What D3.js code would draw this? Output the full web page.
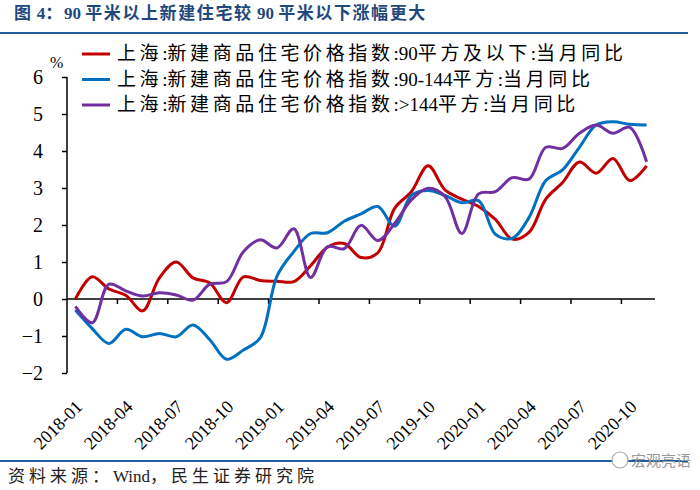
<!DOCTYPE html>
<html>
<head>
<meta charset="utf-8">
<script src="https://cdn.jsdelivr.net/npm/d3@7"></script>
<style>
    body { margin: 0; background: #fff; }
    #chart-area { width: 700px; height: 490px; }
</style>
</head>
<body>
<div id="chart-area"></div>
<script>
// months 2018-01 .. 2020-11
var months = ["2018-01","2018-02","2018-03","2018-04","2018-05","2018-06","2018-07","2018-08","2018-09","2018-10","2018-11","2018-12",
    "2019-01","2019-02","2019-03","2019-04","2019-05","2019-06","2019-07","2019-08","2019-09","2019-10","2019-11","2019-12",
    "2020-01","2020-02","2020-03","2020-04","2020-05","2020-06","2020-07","2020-08","2020-09","2020-10","2020-11"];

var below90 = [0, 0.6, 0.27, 0.1, -0.32, 0.57, 1.0, 0.57, 0.43, -0.1, 0.6, 0.5,
    0.48, 0.47, 0.9, 1.4, 1.5, 1.12, 1.25, 2.45, 2.9, 3.6, 2.95, 2.7,
    2.5, 2.15, 1.62, 1.8, 2.7, 3.15, 3.7, 3.4, 3.8, 3.2, 3.6];
var mid90to144 = [-0.3, -0.8, -1.2, -0.82, -1.02, -0.93, -1.02, -0.7, -1.1, -1.63, -1.38, -1.05,
    0.62, 1.28, 1.77, 1.79, 2.1, 2.3, 2.5, 1.97, 2.8, 2.93, 2.8, 2.6,
    2.66, 1.75, 1.64, 2.2, 3.2, 3.49, 4.1, 4.7, 4.79, 4.72, 4.7];
var above144 = [-0.2, -0.64, 0.4, 0.22, 0.08, 0.17, 0.11, -0.03, 0.4, 0.47, 1.28, 1.6,
    1.38, 1.9, 0.58, 1.41, 1.36, 1.99, 1.58, 2.04, 2.68, 2.99, 2.77, 1.77,
    2.84, 2.9, 3.28, 3.24, 4.1, 4.07, 4.48, 4.7, 4.48, 4.64, 3.71];

var seriesNames = ["上海:新建商品住宅价格指数:90平方及以下:当月同比",
    "上海:新建商品住宅价格指数:90-144平方:当月同比",
    "上海:新建商品住宅价格指数:>144平方:当月同比"];
var seriesColors = ["#C00000", "#0070C0", "#7030A0"];
var yTicks = [-2, -1, 0, 1, 2, 3, 4, 5, 6];

var titleText = "图 4：90 平米以上新建住宅较 90 平米以下涨幅更大";
var sourceText = "资料来源：Wind，民生证券研究院";

var W = 700, H = 490;
var cjk = "'Liberation Serif', 'Noto Sans CJK SC', serif";

var svg = d3.select("#chart-area")
    .append("svg")
        .attr("width", W)
        .attr("height", H);

// put CJK runs in spaced tspans, latin runs unspaced
function spacedText(sel, str, spacing) {
    var runs = str.match(/[\u3000-\u9fff\uff00-\uffef]+|[^\u3000-\u9fff\uff00-\uffef]+/g);
    runs.forEach(function(r) {
        var isCjk = /[\u3000-\u9fff\uff00-\uffef]/.test(r);
        sel.append("tspan")
            .attr("letter-spacing", isCjk ? spacing : 0)
            .text(r);
    });
}

// title + rules
var title = svg.append("text")
    .attr("x", 14)
    .attr("y", 19)
    .attr("fill", "#1F497D")
    .attr("font-family", cjk)
    .attr("font-weight", "bold")
    .attr("font-size", 17)
    .style("white-space", "pre");
spacedText(title, titleText, 1.6);

svg.append("line")
    .attr("x1", 0).attr("x2", 688)
    .attr("y1", 33).attr("y2", 33)
    .attr("stroke", "#1F5FA0")
    .attr("stroke-width", 2);

svg.append("line")
    .attr("x1", 0).attr("x2", 688)
    .attr("y1", 461).attr("y2", 461)
    .attr("stroke", "#1F5FA0")
    .attr("stroke-width", 2);

var source = svg.append("text")
    .attr("x", 8)
    .attr("y", 482)
    .attr("fill", "#222")
    .attr("font-family", cjk)
    .attr("font-size", 17);
spacedText(source, sourceText, 4);

// watermark
svg.append("circle")
    .attr("cx", 620).attr("cy", 460).attr("r", 8)
    .attr("fill", "#fff").attr("stroke", "#aaa").attr("stroke-width", 1.2);
svg.append("text")
    .attr("x", 631)
    .attr("y", 466)
    .attr("fill", "#999")
    .attr("font-family", "'Noto Sans CJK SC', sans-serif")
    .attr("font-size", 15)
    .text("宏观亮语");

// scales
var x = d3.scaleBand()
    .domain(months)
    .range([67, 655])
    .padding(0);

var y = d3.scaleLinear()
    .domain([-2, 6])
    .range([373, 77]);

function cx(m) { return x(m) + x.bandwidth() / 2; }

// y axis
var yAxis = svg.append("g")
    .attr("transform", "translate(67,0)")
    .call(d3.axisLeft(y).tickValues(yTicks).tickSize(5).tickPadding(19).tickFormat(d3.format("d")));
yAxis.select(".domain").attr("stroke", "#000").attr("stroke-width", 1.5).attr("d", "M0," + y(-2) + "V" + y(6));
yAxis.selectAll(".tick line").attr("stroke", "#000").attr("stroke-width", 1.5);
yAxis.selectAll(".tick text")
    .attr("font-family", "'Liberation Serif', serif")
    .attr("font-size", 20)
    .attr("fill", "#000");

svg.append("text")
    .attr("x", 50)
    .attr("y", 68)
    .attr("font-family", "'Liberation Serif', serif")
    .attr("font-size", 16)
    .text("%");

// x axis at zero: ticks every 3 categories (between categories)
var tickMonths = months.filter(function(d, i) { return i > 0 && i % 3 == 0; });
var labelMonths = months.filter(function(d, i) { return i % 3 == 0; });

var xAxisG = svg.append("g")
    .attr("class", "x-axis");
xAxisG.append("line")
    .attr("x1", 67).attr("x2", 655)
    .attr("y1", y(0)).attr("y2", y(0))
    .attr("stroke", "#000")
    .attr("stroke-width", 1.5);
xAxisG.selectAll(".xtick")
    .data(tickMonths)
    .enter()
    .append("line")
    .attr("x1", d => x(d)).attr("x2", d => x(d))
    .attr("y1", y(0)).attr("y2", y(0) + 5)
    .attr("stroke", "#000")
    .attr("stroke-width", 1.5);

svg.selectAll(".xlab")
    .data(labelMonths)
    .enter()
    .append("text")
    .attr("text-anchor", "end")
    .attr("font-family", "'Liberation Serif', serif")
    .attr("font-size", 18)
    .attr("transform", d => "translate(" + (cx(d) + 8) + ",408) rotate(-45)")
    .text(d => d);

// lines
var allSeries = [below90, mid90to144, above144];
var line = d3.line()
    .curve(d3.curveCatmullRom)
    .x(function(d, i) { return cx(months[i]); })
    .y(function(d) { return y(d); });

svg.append("g")
    .attr("class", "curves")
    .selectAll("path")
    .data(allSeries)
    .enter()
    .append("path")
    .attr("fill", "none")
    .attr("stroke", (d, i) => seriesColors[i])
    .attr("stroke-width", 3)
    .attr("stroke-linejoin", "round")
    .attr("d", line);

// legend
var legend = svg.append("g")
    .selectAll("g")
    .data(seriesNames)
    .enter()
    .append("g")
    .attr("transform", (d, i) => "translate(0," + (54 + i * 25.5) + ")");
legend.append("line")
    .attr("x1", 82).attr("x2", 110)
    .attr("y1", 0).attr("y2", 0)
    .attr("stroke", (d, i) => seriesColors[i])
    .attr("stroke-width", 3);
legend.append("text")
    .attr("x", 117)
    .attr("y", 6)
    .attr("font-family", cjk)
    .attr("font-size", 19)
    .each(function(d) { spacedText(d3.select(this), d, 3.6); });
</script>
</body>
</html>
